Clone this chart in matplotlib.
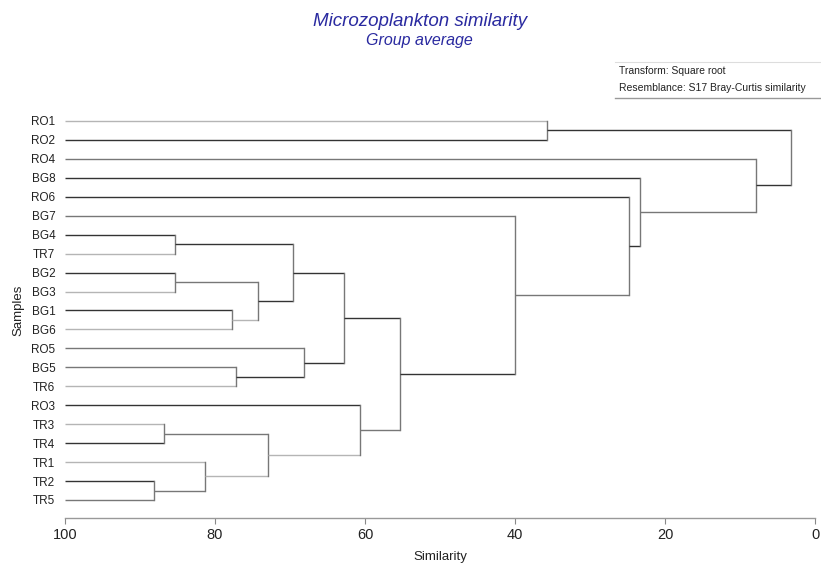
import matplotlib
matplotlib.use('Agg')
import matplotlib.pyplot as plt
from matplotlib.lines import Line2D

plt.rcParams['font.family'] = ['Liberation Sans', 'DejaVu Sans']

# leaves, top to bottom
leaves = ['RO1', 'RO2', 'RO4', 'BG8', 'RO6', 'BG7', 'BG4', 'TR7', 'BG2', 'BG3',
          'BG1', 'BG6', 'RO5', 'BG5', 'TR6', 'RO3', 'TR3', 'TR4', 'TR1', 'TR2', 'TR5']

# merges: child a, child b (leaf name or node number), similarity
merge_a = ['BG4', 'BG2', 'BG1', 1, 0, 'BG5', 'RO5', 4, 'TR3', 'TR2', 'TR1', 8, 'RO3', 7, 'BG7', 'RO6', 'BG8', 'RO4', 'RO1', 18]
merge_b = ['TR7', 'BG3', 'BG6', 2, 3, 'TR6', 5, 6, 'TR4', 'TR5', 9, 10, 11, 12, 13, 14, 15, 16, 'RO2', 17]
merge_sim = [85.4, 85.4, 77.8, 74.3, 69.6, 77.2, 68.1, 62.8, 86.8, 88.1, 81.3, 72.9, 60.7, 55.3, 40.0, 24.8, 23.3, 7.9, 35.8, 3.2]

xticks = [100, 80, 60, 40, 20, 0]

# line shades (jpeg look: some branches darker than others)
D, M, L = '#333333', '#777777', '#b5b5b5'
leaf_col = {'RO1': L, 'RO2': D, 'RO4': M, 'BG8': D, 'RO6': D, 'BG7': M, 'BG4': D,
            'TR7': L, 'BG2': D, 'BG3': L, 'BG1': D, 'BG6': L, 'RO5': M, 'BG5': M,
            'TR6': L, 'RO3': D, 'TR3': L, 'TR4': D, 'TR1': L, 'TR2': D, 'TR5': M}
node_col = [D, M, L, D, D, D, D, D, M, M, L, L, M, D, M, D, M, D, D, M]

W, H = 821, 567
fig = plt.figure(figsize=(W / 100, H / 100), dpi=100)
ax_left, ax_right, ax_top, ax_bottom = 65, 815, 111.5, 518
ax = fig.add_axes([ax_left / W, 1 - ax_bottom / H, (ax_right - ax_left) / W, (ax_bottom - ax_top) / H])

ypos = {name: i for i, name in enumerate(leaves)}
xpos = {name: 100.0 for name in leaves}
col = dict(leaf_col)
for k, (a, b, s) in enumerate(zip(merge_a, merge_b, merge_sim)):
    ya, yb = ypos[a], ypos[b]
    ax.plot([xpos[a], s], [ya, ya], color=col[a], lw=1.0, solid_capstyle='butt')
    ax.plot([xpos[b], s], [yb, yb], color=col[b], lw=1.0, solid_capstyle='butt')
    ax.plot([s, s], [ya, yb], color=M, lw=1.0)
    ypos[k] = (ya + yb) / 2
    xpos[k] = s
    col[k] = node_col[k]

ax.set_xlim(100, 0)
ax.set_ylim(len(leaves) - 1 + 0.95, -0.5)
ax.set_yticks(range(len(leaves)))
ax.set_yticklabels(leaves, fontsize=8.5, color='#222222')
ax.tick_params(axis='y', length=0, pad=7)
ax.set_xticks(xticks)
ax.set_xticklabels([str(t) for t in xticks], fontsize=10.5, color='#222222')
ax.tick_params(axis='x', length=4.5, color='#888888', width=0.8, pad=3)
for side in ['top', 'right', 'left']:
    ax.spines[side].set_visible(False)
ax.spines['bottom'].set_color('#999999')
ax.spines['bottom'].set_linewidth(1.0)

fig.text(440 / W, 1 - 557 / H, 'Similarity', ha='center', va='center', fontsize=9.5, color='#222222')
fig.text(18 / W, 1 - 310 / H, 'Samples', ha='center', va='center', rotation=90, fontsize=9.5, color='#222222')

fig.text(420 / W, 1 - 21 / H, 'Microzoplankton similarity', ha='center', va='center',
         fontsize=13.5, style='italic', color='#2a2aa0')
fig.text(419 / W, 1 - 41 / H, 'Group average', ha='center', va='center',
         fontsize=11.5, style='italic', color='#2a2aa0')

fig.add_artist(Line2D([615 / W, 1], [1 - 62 / H, 1 - 62 / H], transform=fig.transFigure, color='#dddddd', lw=0.8))
fig.add_artist(Line2D([615 / W, 1], [1 - 98 / H, 1 - 98 / H], transform=fig.transFigure, color='#999999', lw=1.0))
fig.text(619 / W, 1 - 71 / H, 'Transform: Square root', ha='left', va='center', fontsize=7.5, color='#222222')
fig.text(619 / W, 1 - 88 / H, 'Resemblance: S17 Bray-Curtis similarity', ha='left', va='center', fontsize=7.5, color='#222222')

fig.savefig('out.png', dpi=100)
